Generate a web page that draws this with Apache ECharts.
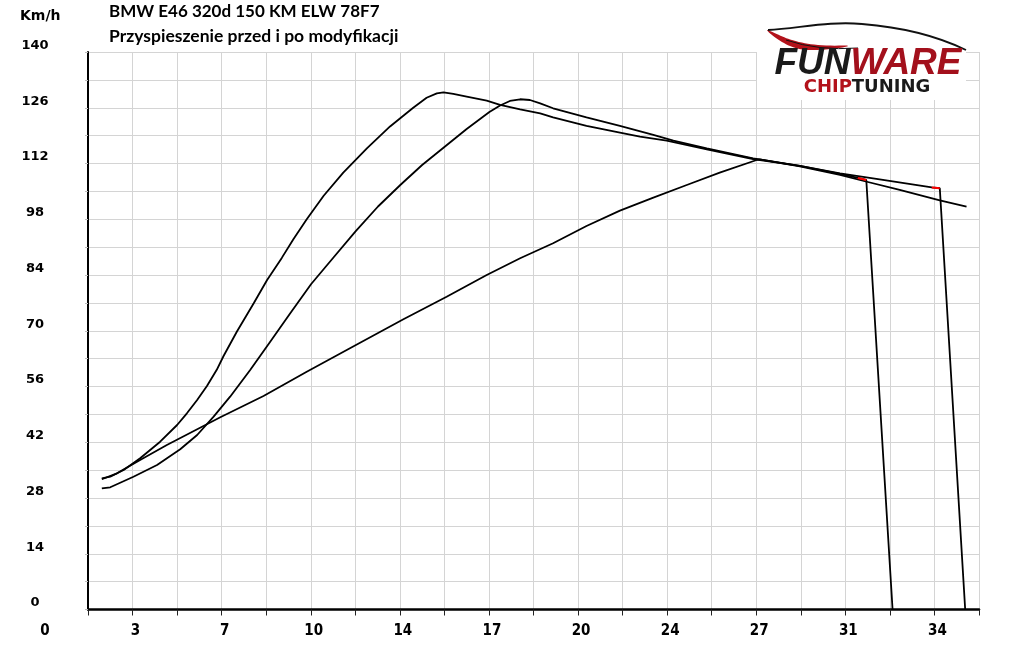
<!DOCTYPE html>
<html>
<head>
<meta charset="utf-8">
<script src="https://cdn.jsdelivr.net/npm/echarts@6/dist/echarts.min.js"></script>
<style>html,body{margin:0;padding:0;background:#fff}#c{width:1024px;height:647px}</style>
</head>
<body>
<div id="c"></div>
<script>
// x axis: tick index 0..20, labels as printed on the chart
var xTickLabels = ['0','3','','7','','10','','14','','17','','20','','24','','27','','31','','34',''];
// y axis labels every 14 km/h, grid every 7
var yMax = 140, yStep = 7, yLabelStep = 14;

// three acceleration traces, [x tick position, km/h]
var runA = [[0.31,32.95],[0.50,33.35],[0.80,35.03],[1.17,37.97],[1.62,42.14],[2.00,46.33],[2.22,49.27],[2.45,52.61],[2.67,56.13],[2.89,60.2],[3.04,63.6],[3.34,69.76],[3.72,76.90],[4.02,82.75],[4.35,88.3],[4.61,93.0],[4.91,98.0],[5.29,103.9],[5.73,109.7],[6.26,115.82],[6.78,121.3],[7.30,126.0],[7.60,128.5],[7.83,129.6],[7.98,129.88],[8.20,129.46],[8.50,128.78],[8.95,127.77],[9.25,126.70],[9.70,125.62],[10.15,124.61],[10.44,123.61],[11.19,121.42],[11.94,119.74],[12.39,118.73],[12.99,117.73],[13.89,115.57],[14.93,113.13],[15.98,111.38],[16.88,109.37],[17.28,108.36],[17.47,107.86],[18.06,0]];
var runB = [[0.31,30.44],[0.50,30.69],[1.02,33.35],[1.55,36.29],[2.07,40.23],[2.45,43.82],[2.82,48.42],[3.19,53.44],[3.64,60.15],[4.09,67.25],[4.54,74.38],[5.01,81.74],[5.51,88.4],[6.01,95.0],[6.51,101.2],[7.01,106.60],[7.50,111.63],[8.00,116.15],[8.50,120.67],[9.01,124.94],[9.25,126.57],[9.47,127.70],[9.70,128.13],[9.92,127.95],[10.15,127.12],[10.44,125.87],[11.19,123.61],[11.94,121.42],[12.69,119.16],[13.14,117.73],[13.89,115.82],[14.93,113.31],[15.98,111.38],[16.88,109.54],[17.77,108.04],[18.94,105.98],[19.12,105.78],[19.69,0]];
var runC = [[0.31,32.70],[0.65,34.20],[1.17,37.54],[1.77,41.31],[2.30,44.40],[2.97,48.27],[3.94,53.62],[4.91,59.72],[5.88,65.60],[7.08,72.88],[8.05,78.55],[8.95,84.00],[9.70,88.20],[10.44,91.96],[11.19,96.31],[11.94,100.15],[12.69,103.42],[13.44,106.60],[14.18,109.69],[15.01,112.88],[15.08,113.06],[15.98,111.25],[16.88,109.12],[17.46,107.48],[18.22,105.35],[19.12,102.71],[19.72,101.16]];
// red end markers of the two runs that drop to zero
var endA = [[17.28,108.36],[17.47,107.86]];
var endB = [[18.94,105.98],[19.12,105.78]];

var chart = echarts.init(document.getElementById('c'), null, {renderer:'canvas'});
var lineStyle = {color:'#000', width:1.8};
function run(d){ return {type:'line', data:d, showSymbol:false, symbol:'none', lineStyle:lineStyle, animation:false, z:3}; }
function red(d){ return {type:'line', data:d, showSymbol:false, symbol:'none', lineStyle:{color:'#ff0000', width:2.2}, animation:false, z:4}; }
var titleFont = {fontFamily:'Lato', fontWeight:'bold', fontSize:17, color:'#000'};
var narrow = 'Liberation Sans Narrow, DejaVu Sans Condensed, sans-serif';

chart.setOption({
  backgroundColor:'#fff',
  animation:false,
  title:[
    {text:'Km/h', left:20, top:9, padding:0, textStyle:{fontFamily:'DejaVu Sans', fontWeight:'bold', fontSize:14, color:'#000'}},
    {text:'BMW E46 320d 150 KM ELW 78F7', left:109, top:3, padding:0, textStyle:titleFont},
    {text:'Przyspieszenie przed i po modyfikacji', left:109, top:27, padding:0, textStyle:{fontFamily:'Lato', fontWeight:'bold', fontSize:17.5, color:'#000'}}
  ],
  grid:{left:88, top:52, width:891, height:557.5, containLabel:false},
  xAxis:{
    type:'value', min:0, max:20, interval:1,
    axisLine:{show:true, onZero:false, lineStyle:{color:'#000', width:2.5}},
    axisTick:{show:true, length:6, lineStyle:{color:'#222', width:1}},
    splitLine:{show:true, lineStyle:{color:'#d4d4d4', width:1}},
    axisLabel:{
      margin:14, color:'#000', fontFamily:narrow, fontWeight:'bold', fontSize:15,
      showMinLabel:true, showMaxLabel:true,
      formatter:function(v){ var i = Math.round(v); var s = xTickLabels[i] || ''; return i===0 ? '{z|'+s+'}' : '{n|'+s+'}'; },
      rich:{
        z:{padding:[0,86,0,0], color:'#000', fontFamily:narrow, fontWeight:'bold', fontSize:15},
        n:{padding:[0,0,0,6], color:'#000', fontFamily:narrow, fontWeight:'bold', fontSize:15}
      }
    }
  },
  yAxis:{
    type:'value', min:0, max:yMax, interval:yStep,
    axisLine:{show:true, lineStyle:{color:'#000', width:2}},
    axisTick:{show:true, length:3, lineStyle:{color:'#bbb', width:1}},
    splitLine:{show:true, lineStyle:{color:'#d4d4d4', width:1}},
    axisLabel:{
      margin:53, align:'center', verticalAlign:'bottom', color:'#000', fontFamily:'DejaVu Sans', fontWeight:'bold', fontSize:13,
      showMinLabel:true, showMaxLabel:true,
      formatter:function(v){ return (v % yLabelStep === 0) ? String(v) : ''; }
    }
  },
  series:[run(runA), run(runB), run(runC), red(endA), red(endB)],
  graphic:[
    {type:'rect', shape:{x:757, y:18, width:209, height:82}, style:{fill:'#fff'}, z:10},
    {type:'polygon', shape:{points:[[767,30],[792,40],[818,45],[848,46],[815,50],[790,46]], smooth:0.4}, style:{fill:'#b3121b'}, z:11},
    {type:'bezierCurve', shape:{x1:768, y1:30, cpx1:800, cpy1:28, cpx2:830, cpy2:21, x2:862, y2:24}, style:{fill:null, stroke:'#111', lineWidth:1.8}, z:11},
    {type:'bezierCurve', shape:{x1:862, y1:24, cpx1:900, cpy1:27, cpx2:935, cpy2:35, x2:966, y2:50}, style:{fill:null, stroke:'#111', lineWidth:1.8}, z:11},
    {type:'bezierCurve', shape:{x1:786, y1:40, cpx1:818, cpy1:51, x2:858, y2:48}, style:{fill:null, stroke:'#111', lineWidth:1}, z:11},
    {type:'text', x:868, y:64, style:{text:'{a|FUN}{b|WARE}', align:'center', verticalAlign:'middle',
      rich:{a:{fill:'#1a1a1a', font:'italic bold 37px "Liberation Sans", sans-serif'}, b:{fill:'#a3101c', font:'italic bold 37px "Liberation Sans", sans-serif'}}}, z:12},
    {type:'text', x:867, y:87, style:{text:'{a|CHIP}{b|TUNING}', align:'center', verticalAlign:'middle',
      rich:{a:{fill:'#b3121b', font:'bold 18px "DejaVu Sans", sans-serif'}, b:{fill:'#1a1a1a', font:'bold 18px "DejaVu Sans", sans-serif'}}}, z:12}
  ]
});
</script>
</body>
</html>
